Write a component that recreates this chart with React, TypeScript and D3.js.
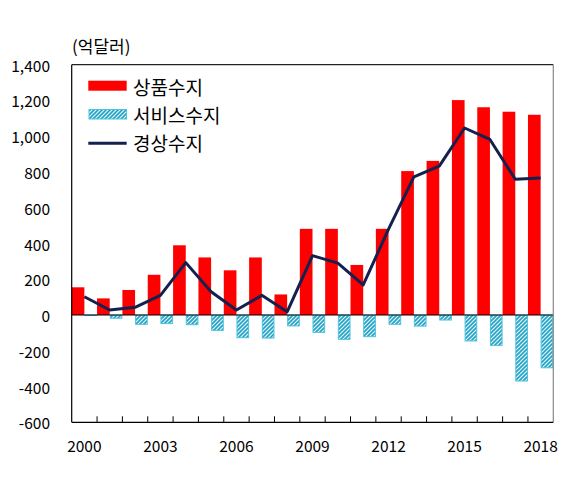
import React from "react";
import * as d3 from "d3";

const years = ["2000","2001","2002","2003","2004","2005","2006","2007","2008","2009","2010","2011","2012","2013","2014","2015","2016","2017","2018"];
const goods = [155, 93, 140, 225, 390, 322, 250, 322, 115, 482, 482, 280, 482, 805, 862, 1202, 1162, 1137, 1120];
const services = [-3, -18, -52, -48, -54, -86, -127, -129, -61, -97, -136, -121, -52, -62, -28, -145, -170, -369, -295];
const current = [102, 28, 43, 110, 293, 130, 28, 110, 18, 332, 290, 168, 480, 773, 833, 1046, 982, 759, 766];
const yTicks = [-600, -400, -200, 0, 200, 400, 600, 800, 1000, 1200, 1400];
const xLabelYears = ["2000", "2003", "2006", "2009", "2012", "2015", "2018"];
const legendLabels = ["상품수지", "서비스수지", "경상수지"];
const unitLabel = "(억달러)";

const W = 571, H = 479;
const left = 71.7, right = 553.3, top = 64.7, bottom = 422.3;
const FONT = "'Noto Sans CJK KR', 'Noto Sans', sans-serif";

export default function App() {
  const x = d3.scaleBand<string>().domain(years).range([left, right]).paddingInner(0).paddingOuter(0);
  const y = d3.scaleLinear().domain([-600, 1400]).range([bottom, top]);
  const bw = x.bandwidth();
  const half = bw / 2;
  const line = d3.line<number>()
    .x((_, i) => (x(years[i]) as number) + half)
    .y((d) => y(d));
  const fmt = (v: number) => d3.format(",")(v).replace("\u2212", "-");
  const y0 = y(0);

  return (
    <svg width={W} height={H} style={{ position: "absolute", left: 0, top: 0, background: "#fff" }}>
      <defs>
        <pattern id="hatch" patternUnits="userSpaceOnUse" width="4" height="4">
          <rect width="4" height="4" fill="#e4f5fa" />
          <path d="M-1,1 l2,-2 M0,4 l4,-4 M3,5 l2,-2" stroke="#22a3c6" strokeWidth="1.6" />
        </pattern>
      </defs>
      <rect x={0} y={0} width={W} height={H} fill="#fff" />

      {/* goods bars */}
      {goods.map((v, i) => (
        <rect key={"g" + i} x={x(years[i]) as number} width={half}
          y={Math.min(y(v), y0)} height={Math.abs(y(v) - y0)} fill="#ff0000" />
      ))}
      {/* services bars */}
      {services.map((v, i) => (
        <rect key={"s" + i} x={(x(years[i]) as number) + half + 0.5} width={half - 1}
          y={Math.min(y(v), y0)} height={Math.abs(y(v) - y0)} fill="url(#hatch)" stroke="#4fc3de" strokeWidth={1} />
      ))}

      {/* zero line */}
      <line x1={left} x2={right} y1={y0} y2={y0} stroke="#000" strokeWidth={1.2} />

      {/* current account line */}
      <path d={line(current) || ""} fill="none" stroke="#14204e" strokeWidth={3} strokeLinejoin="round" />

      {/* frame */}
      <line x1={left} x2={right} y1={top} y2={top} stroke="#222" strokeWidth={1.2} />
      <line x1={right} x2={right} y1={top} y2={bottom} stroke="#888" strokeWidth={1.2} />
      <line x1={left} x2={left} y1={top} y2={bottom} stroke="#000" strokeWidth={1.2} />
      <line x1={left} x2={right} y1={bottom} y2={bottom} stroke="#000" strokeWidth={1.2} />

      {/* x ticks */}
      {years.slice(1).map((yr) => (
        <line key={"t" + yr} x1={x(yr) as number} x2={x(yr) as number} y1={bottom} y2={bottom - 6} stroke="#000" strokeWidth={1} />
      ))}
      {xLabelYears.map((yr) => (
        <text key={"xl" + yr} x={(x(yr) as number) + half} y={445} textAnchor="middle" dominantBaseline="central"
          fontFamily={FONT} fontSize={15.5} fill="#000">{yr}</text>
      ))}

      {/* y labels */}
      {yTicks.map((t) => (
        <text key={"yl" + t} x={50} y={y(t)} textAnchor="end" dominantBaseline="central"
          fontFamily={FONT} fontSize={15.5} fill="#000">{fmt(t)}</text>
      ))}

      <text x={72} y={45} dominantBaseline="central" fontFamily={FONT} fontSize={17} fill="#000">{unitLabel}</text>

      {/* legend */}
      <rect x={88.3} y={80.7} width={38.4} height={10} fill="#ff0000" />
      <text x={133} y={86} dominantBaseline="central" fontFamily={FONT} fontSize={19} fill="#000">{legendLabels[0]}</text>
      <rect x={89} y={109.5} width={37.5} height={9.5} fill="url(#hatch)" stroke="#4fc3de" strokeWidth={1} />
      <text x={133} y={114} dominantBaseline="central" fontFamily={FONT} fontSize={19} fill="#000">{legendLabels[1]}</text>
      <line x1={88.3} x2={126.7} y1={143.3} y2={143.3} stroke="#14204e" strokeWidth={3} />
      <text x={133} y={142} dominantBaseline="central" fontFamily={FONT} fontSize={19} fill="#000">{legendLabels[2]}</text>
    </svg>
  );
}
